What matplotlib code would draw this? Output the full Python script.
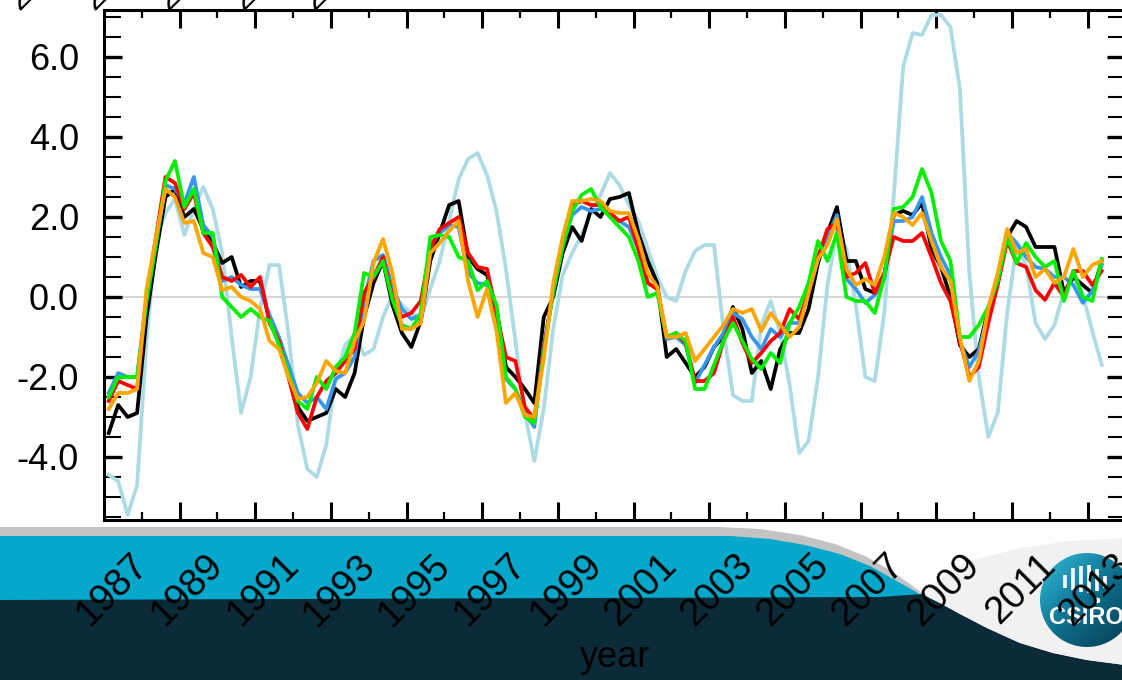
import numpy as np
import matplotlib
matplotlib.use('Agg')
import matplotlib.pyplot as plt
from matplotlib.patches import Polygon, Circle
from matplotlib.colors import LinearSegmentedColormap

plt.rcParams['font.family'] = ['Liberation Sans', 'DejaVu Sans']

# quarterly values, first point 1986.125
t_start = 1986.125
t_step = 0.25

black = [
    -3.4, -2.7, -3.0, -2.9, -0.5, 1.1, 2.5, 2.7, 2.0, 2.2,
    1.7, 1.35, 0.85, 1.0, 0.25, 0.4, 0.4, -0.57, -1.05, -1.8,
    -2.75, -3.1, -3.0, -2.9, -2.3, -2.5, -1.9, -0.5, 0.35, 0.9,
    -0.2, -0.9, -1.25, -0.6, 0.9, 1.6, 2.3, 2.4, 1.0, 0.7,
    0.55, -0.3, -1.75, -2.0, -2.3, -2.65, -0.5, 0.0, 1.1, 1.75,
    1.4, 2.2, 2.0, 2.45, 2.5, 2.6, 1.6, 0.9, 0.35, -1.5,
    -1.3, -1.65, -2.0, -1.75, -1.25, -1.0, -0.25, -0.8, -1.9, -1.6,
    -2.3, -1.3, -0.9, -0.9, -0.3, 0.85, 1.6, 2.25, 0.9, 0.9,
    0.2, 0.1, 0.5, 2.05, 2.15, 2.05, 2.35, 1.2, 0.75, 0.0,
    -1.2, -1.5, -1.3, -0.3, 0.5, 1.5, 1.9, 1.75, 1.25, 1.25,
    1.25, 0.1, 0.5, 0.3, 0.1, 0.9]

blue = [
    -2.4, -1.9, -2.0, -2.0, 0.0, 1.4, 2.8, 2.7, 2.35, 3.0,
    1.8, 1.5, 0.4, 0.5, 0.3, 0.2, 0.2, -0.45, -1.0, -1.7,
    -2.4, -2.65, -2.5, -2.8, -2.05, -1.9, -1.5, -0.1, 0.9, 1.05,
    0.25, -0.3, -0.55, -0.45, 1.3, 1.6, 1.8, 1.75, 0.6, 0.35,
    0.3, -0.45, -2.05, -2.3, -2.9, -3.25, -1.2, 0.1, 1.3, 2.05,
    2.25, 2.15, 2.2, 2.1, 1.9, 1.75, 1.2, 0.35, 0.2, -1.05,
    -1.0, -1.2, -2.15, -1.7, -1.25, -0.9, -0.4, -0.55, -1.0, -1.3,
    -0.8, -1.0, -0.65, -0.65, 0.2, 0.95, 1.5, 2.05, 0.45, 0.2,
    -0.15, 0.05, 0.45, 1.9, 1.9, 2.0, 2.5, 1.6, 1.0, 0.55,
    -1.1, -1.75, -1.35, -0.4, 0.45, 1.6, 1.35, 1.0, 0.75, 0.7,
    0.5, 0.5, 0.3, -0.15, 0.15, 0.8]

red = [
    -2.6, -2.1, -2.2, -2.3, 0.0, 1.5, 3.0, 2.85, 2.2, 2.6,
    1.6, 1.25, 0.5, 0.4, 0.55, 0.25, 0.5, -0.65, -1.1, -2.0,
    -2.9, -3.3, -2.5, -2.1, -1.9, -1.6, -1.3, 0.1, 0.5, 1.0,
    0.0, -0.5, -0.4, -0.1, 1.2, 1.7, 1.85, 2.0, 1.1, 0.75,
    0.7, -0.4, -1.5, -1.6, -2.75, -3.05, -1.3, 0.15, 1.35, 2.3,
    2.4, 2.3, 2.3, 2.1, 1.9, 2.0, 1.2, 0.35, 0.2, -1.0,
    -0.9, -1.15, -2.1, -2.1, -1.9, -1.1, -0.5, -1.15, -1.65, -1.4,
    -1.1, -0.9, -0.3, -0.55, 0.1, 1.0, 1.7, 1.85, 0.5, 0.6,
    0.85, 0.1, 0.6, 1.5, 1.4, 1.4, 1.6, 1.0, 0.35, -0.1,
    -1.1, -2.0, -1.75, -0.65, 0.3, 1.4, 0.85, 0.75, 0.17, -0.07,
    0.35, 0.0, 0.65, 0.65, 0.3, 0.65]

green = [
    -2.5, -2.0, -2.0, -2.0, -0.1, 1.3, 2.9, 3.4, 2.25, 2.7,
    1.6, 1.6, 0.0, -0.25, -0.5, -0.3, -0.5, -0.6, -1.2, -1.9,
    -2.6, -2.8, -2.0, -2.3, -1.75, -1.5, -0.9, 0.6, 0.5, 0.9,
    -0.07, -0.7, -0.8, -0.4, 1.5, 1.55, 1.5, 1.0, 0.9, 0.17,
    0.4, -0.2, -2.0, -2.3, -3.0, -3.15, -1.4, 0.15, 1.25, 2.15,
    2.55, 2.7, 2.25, 2.0, 1.75, 1.5, 0.9, 0.0, 0.1, -1.0,
    -0.9, -1.1, -2.3, -2.3, -1.7, -1.1, -0.65, -1.1, -1.55, -1.8,
    -1.4, -1.65, -0.65, -0.25, 0.35, 1.4, 0.9, 1.6, 0.0, -0.1,
    -0.1, -0.4, 0.5, 2.2, 2.25, 2.5, 3.2, 2.6, 1.4, 0.9,
    -1.0, -1.0, -0.7, -0.25, 0.4, 1.5, 0.85, 1.35, 1.0, 0.75,
    0.9, -0.1, 0.65, 0.0, -0.1, 0.95]

orange = [
    -2.8, -2.4, -2.4, -2.3, 0.2, 1.5, 2.7, 2.5, 1.85, 1.9,
    1.1, 1.0, 0.17, 0.25, 0.0, -0.1, -0.3, -1.1, -1.3, -2.0,
    -2.55, -2.5, -2.15, -1.6, -1.85, -1.9, -1.1, -0.6, 0.85, 1.45,
    0.6, -0.8, -0.8, -0.65, 1.1, 1.35, 1.65, 1.9, 0.4, -0.5,
    0.2, -0.85, -2.65, -2.4, -2.95, -3.0, -1.55, 0.35, 1.5, 2.4,
    2.4, 2.45, 2.4, 2.15, 2.1, 2.1, 1.45, 0.6, 0.25, -1.0,
    -1.0, -0.9, -1.6, -1.3, -1.0, -0.7, -0.3, -0.4, -0.3, -0.85,
    -0.4, -0.7, -1.0, -0.75, 0.1, 0.95, 1.3, 1.95, 0.7, 0.3,
    0.45, 0.3, 1.0, 2.1, 2.0, 1.8, 2.1, 1.4, 0.75, 0.4,
    -1.0, -2.1, -1.6, -0.3, 0.6, 1.7, 1.1, 1.2, 0.5, 0.7,
    0.35, 0.5, 1.2, 0.5, 0.8, 0.9]

light = [
    -4.45, -4.6, -5.45, -4.7, -1.1, 1.45, 2.1, 2.45, 1.55, 2.2,
    2.75, 2.2, 1.1, -1.0, -2.9, -2.0, -0.3, 0.8, 0.8, -0.9,
    -3.2, -4.3, -4.5, -3.7, -2.0, -1.2, -0.95, -1.45, -1.3, -0.5,
    0.05, -0.2, -0.4, -0.55, 0.2, 0.9, 1.9, 2.95, 3.45, 3.6,
    3.05, 2.15, 0.7, -1.1, -2.9, -4.1, -2.8, -0.8, 0.55, 1.1,
    1.55, 2.1, 2.55, 3.1, 2.8, 2.3, 1.9, 1.2, 0.5, 0.0,
    -0.1, 0.65, 1.15, 1.3, 1.3, -0.8, -2.45, -2.6, -2.6, -0.7,
    -0.1, -0.9, -2.2, -3.9, -3.6, -2.0, 0.3, 1.7, 1.2, -0.2,
    -2.0, -2.1, -0.4, 2.5, 5.75, 6.6, 6.55, 7.05, 7.05, 6.75,
    5.2, 0.6, -2.0, -3.5, -2.9, -0.4, 1.3, 0.8, -0.65, -1.05,
    -0.7, 0.15, 0.5, 0.05, -0.85, -1.7]

label_years = list(range(1987, 2014, 2))
long_tick_years = list(range(1988, 2013, 2))
y_major = [-4, -2, 0, 2, 4, 6]
y_labels = ['-4.0', '-2.0', '0.0', '2.0', '4.0', '6.0']

years = t_start + t_step * np.arange(len(black))

W, H = 1122, 680
fig = plt.figure(figsize=(W / 100, H / 100), dpi=100)

# banner at the bottom (pixel coordinates)
bg = fig.add_axes([0, 0, 1, 1], zorder=0)
bg.axis('off')

gray_top = [(0, 527), (720, 527), (760, 529), (800, 535), (835, 544), (865, 556),
            (890, 570), (910, 584), (922, 593)]
blue_top = [(0, 536), (730, 536), (770, 539), (805, 545), (840, 554), (870, 566),
            (895, 580), (918, 593)]
dark_top = [(0, 600), (880, 597), (922, 594), (940, 603), (960, 614), (987, 628),
            (1020, 643), (1053, 653), (1087, 660), (1125, 665)]
light_top = [(922, 593), (945, 575), (970, 561), (1020, 548), (1070, 541), (1125, 538)]

bg.add_patch(Polygon(gray_top + [(922, 605), (0, 605)], closed=True, fc='#c3c3c3', ec='none'))
bg.add_patch(Polygon(blue_top + [(922, 605), (0, 605)], closed=True, fc='#05a7cb', ec='none'))
bg.add_patch(Polygon(dark_top + [(1125, 680), (0, 680)], closed=True, fc='#0a2b37', ec='none'))
bg.add_patch(Polygon(light_top + dark_top[:1:-1] + [(922, 594)], closed=True, fc='#f1f1f1', ec='none'))

# CSIRO logo
cm = LinearSegmentedColormap.from_list('csiro', ['#34bfe0', '#0d6e8c', '#073a4e'])
gx, gy = np.meshgrid(np.linspace(0, 1, 120), np.linspace(0, 1, 120))
im = bg.imshow((gx + gy) / 2, cmap=cm, extent=(1040, 1134, 647, 553), origin='upper',
               aspect='auto', zorder=3)
circ = Circle((1087, 600), 47, fc='none', ec='none')
bg.add_patch(circ)
im.set_clip_path(circ)
bar_x = [1065, 1073, 1081, 1089, 1097, 1105]
bar_top = [575, 568, 566, 565, 569, 576]
bar_bot = [588, 590, 592, 593, 591, 588]
bg.vlines(bar_x, bar_top, bar_bot, colors='white', lw=2.6, zorder=4)
bg.plot([1097], [600], 'o', color='white', ms=3, zorder=4)
bg.text(1086, 618, 'CSIRO', color='white', fontsize=17, fontweight='bold',
        ha='center', va='center', zorder=4)
bg.set_xlim(0, W)
bg.set_ylim(H, 0)

# cut-off labels of a panel above
for x0, lab in zip([19, 94, 168, 243, 314], ['2001', '2003', '2005', '2007', '2009']):
    fig.text(x0 / W, (H - 11) / H, lab, rotation=45, rotation_mode='anchor',
             ha='left', va='baseline', fontsize=24)

# main plot
ax = fig.add_axes([104 / W, 160 / H, 1021.4 / W, 510 / H], zorder=1)
ax.axhline(0, color='#cfcfcf', lw=1.2, zorder=1)
ax.plot(years, light, color='#acdbe5', lw=2.7, zorder=2)
ax.plot(years, black, color='black', lw=2.7, zorder=3)
ax.plot(years, blue, color='#3796ee', lw=2.7, zorder=3)
ax.plot(years, red, color='#ff0000', lw=2.7, zorder=3)
ax.plot(years, green, color='#00f000', lw=2.7, zorder=3)
ax.plot(years, orange, color='#ffa500', lw=2.7, zorder=3)

ax.set_xlim(1986, 2013)
ax.set_ylim(-5.575, 7.175)

ax.set_xticks(label_years)
ax.set_xticklabels([str(y) for y in label_years])
ax.set_xticks(long_tick_years, minor=True)
ax.tick_params(axis='x', which='major', direction='in', length=5.8, width=1.6,
               top=True, labelsize=27.5, pad=29)
ax.tick_params(axis='x', which='minor', direction='in', length=13, width=2.2, top=True)
for lab in ax.get_xticklabels():
    lab.set_rotation(45)
    lab.set_ha('right')
    lab.set_va('center')
    lab.set_rotation_mode('anchor')

ax.set_yticks(y_major)
ax.set_yticklabels(y_labels)
ax.set_yticks(np.arange(-5.5, 7.01, 0.5), minor=True)
ax.tick_params(axis='y', which='major', direction='in', length=13, width=2.4,
               right=True, labelsize=26, pad=18)
ax.tick_params(axis='y', which='minor', direction='in', length=12.5, width=1.5, right=True)
for sp in ax.spines.values():
    sp.set_linewidth(2.2)

fig.text(615 / W, (H - 667) / H, 'year', ha='center', va='baseline', fontsize=26, color='black')

fig.savefig('out.png', dpi=100)
